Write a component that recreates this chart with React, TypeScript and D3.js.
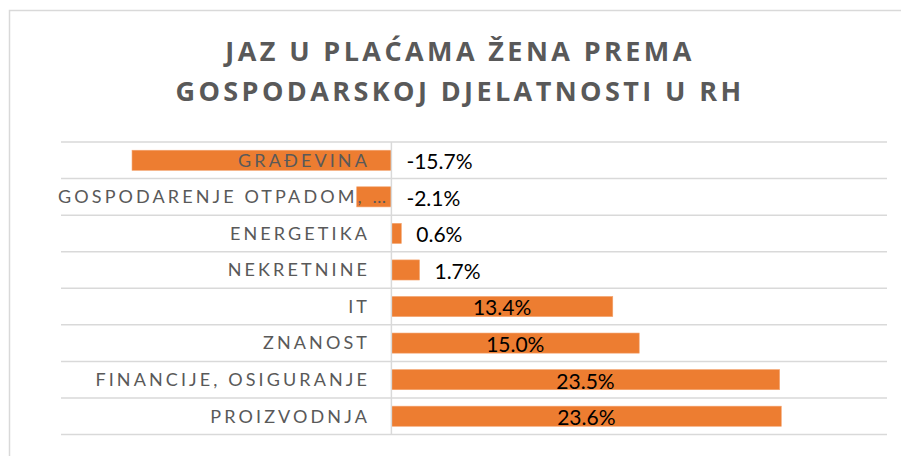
import React from "react";
import * as d3 from "d3";

const categories = [
  "GRAĐEVINA",
  "GOSPODARENJE OTPADOM, …",
  "ENERGETIKA",
  "NEKRETNINE",
  "IT",
  "ZNANOST",
  "FINANCIJE, OSIGURANJE",
  "PROIZVODNJA",
];
const values = [-15.7, -2.1, 0.6, 1.7, 13.4, 15.0, 23.5, 23.6];
const titleLines = ["JAZ U PLAĆAMA ŽENA PREMA", "GOSPODARSKOJ DJELATNOSTI U RH"];

const W = 901;
const H = 456;
const plotLeft = 61;
const plotRight = 887;
const plotTop = 142;
const plotBottom = 434.5;

export default function App() {
  const x = d3.scaleLinear().domain([-20, 30]).range([plotLeft, plotRight]);
  const y = d3
    .scaleBand<string>()
    .domain(categories)
    .range([plotTop, plotBottom])
    .paddingInner(0.45)
    .paddingOuter(0.225);
  const step = y.step();
  const x0 = x(0);
  const fmt = (v: number) => v.toFixed(1) + "%";
  const valueFont = 21;
  const approxWidth = (s: string) => s.length * valueFont * 0.5;

  return (
    <svg
      width={W}
      height={H}
      style={{ position: "absolute", left: 0, top: 0, background: "#fff" }}
    >
      <rect x={9.5} y={10.5} width={1000} height={1000} fill="#fff" stroke="#D9D9D9" strokeWidth={1.5} />
      {titleLines.map((t, i) => (
        <text
          key={i}
          x={460}
          y={61 + i * 40}
          textAnchor="middle"
          fontFamily="'Open Sans', sans-serif"
          fontWeight={700}
          fontSize={27}
          letterSpacing={3.4}
          fill="#595959"
        >
          {t}
        </text>
      ))}
      {d3.range(categories.length + 1).map((i) => (
        <line
          key={"g" + i}
          x1={plotLeft}
          x2={plotRight}
          y1={plotTop + i * step}
          y2={plotTop + i * step}
          stroke="#D9D9D9"
          strokeWidth={1.5}
        />
      ))}
      {categories.map((c, i) => {
        const v = values[i];
        const by = y(c)!;
        return (
          <rect
            key={"b" + i}
            x={Math.min(x(v), x0)}
            y={by}
            width={Math.abs(x(v) - x0)}
            height={y.bandwidth()}
            fill="#ED7D31"
            stroke="#F4A36E"
            strokeWidth={0.6}
          />
        );
      })}
      <line x1={x0} x2={x0} y1={plotTop} y2={plotBottom} stroke="#D9D9D9" strokeWidth={1.5} />
      {categories.map((c, i) => {
        const cy = y(c)! + y.bandwidth() / 2;
        const truncated = c.endsWith("…");
        return (
          <text
            key={"l" + i}
            x={truncated ? 389 : 370}
            y={cy}
            dy="0.35em"
            textAnchor="end"
            fontFamily="Lato, sans-serif"
            fontSize={18}
            letterSpacing={3.1}
            fill="#595959"
          >
            {c}
          </text>
        );
      })}
      {categories.map((c, i) => {
        const v = values[i];
        const cy = y(c)! + y.bandwidth() / 2 + 1.5;
        const label = fmt(v);
        const barW = Math.abs(x(v) - x0);
        const inside = v > 0 && barW > approxWidth(label) + 10;
        return (
          <text
            key={"v" + i}
            x={inside ? (x0 + x(v)) / 2 : x(Math.max(0, v)) + 15}
            y={cy}
            dy="0.35em"
            textAnchor={inside ? "middle" : "start"}
            fontFamily="Lato, sans-serif"
            fontSize={valueFont}
            fill="#000"
          >
            {label}
          </text>
        );
      })}
    </svg>
  );
}
